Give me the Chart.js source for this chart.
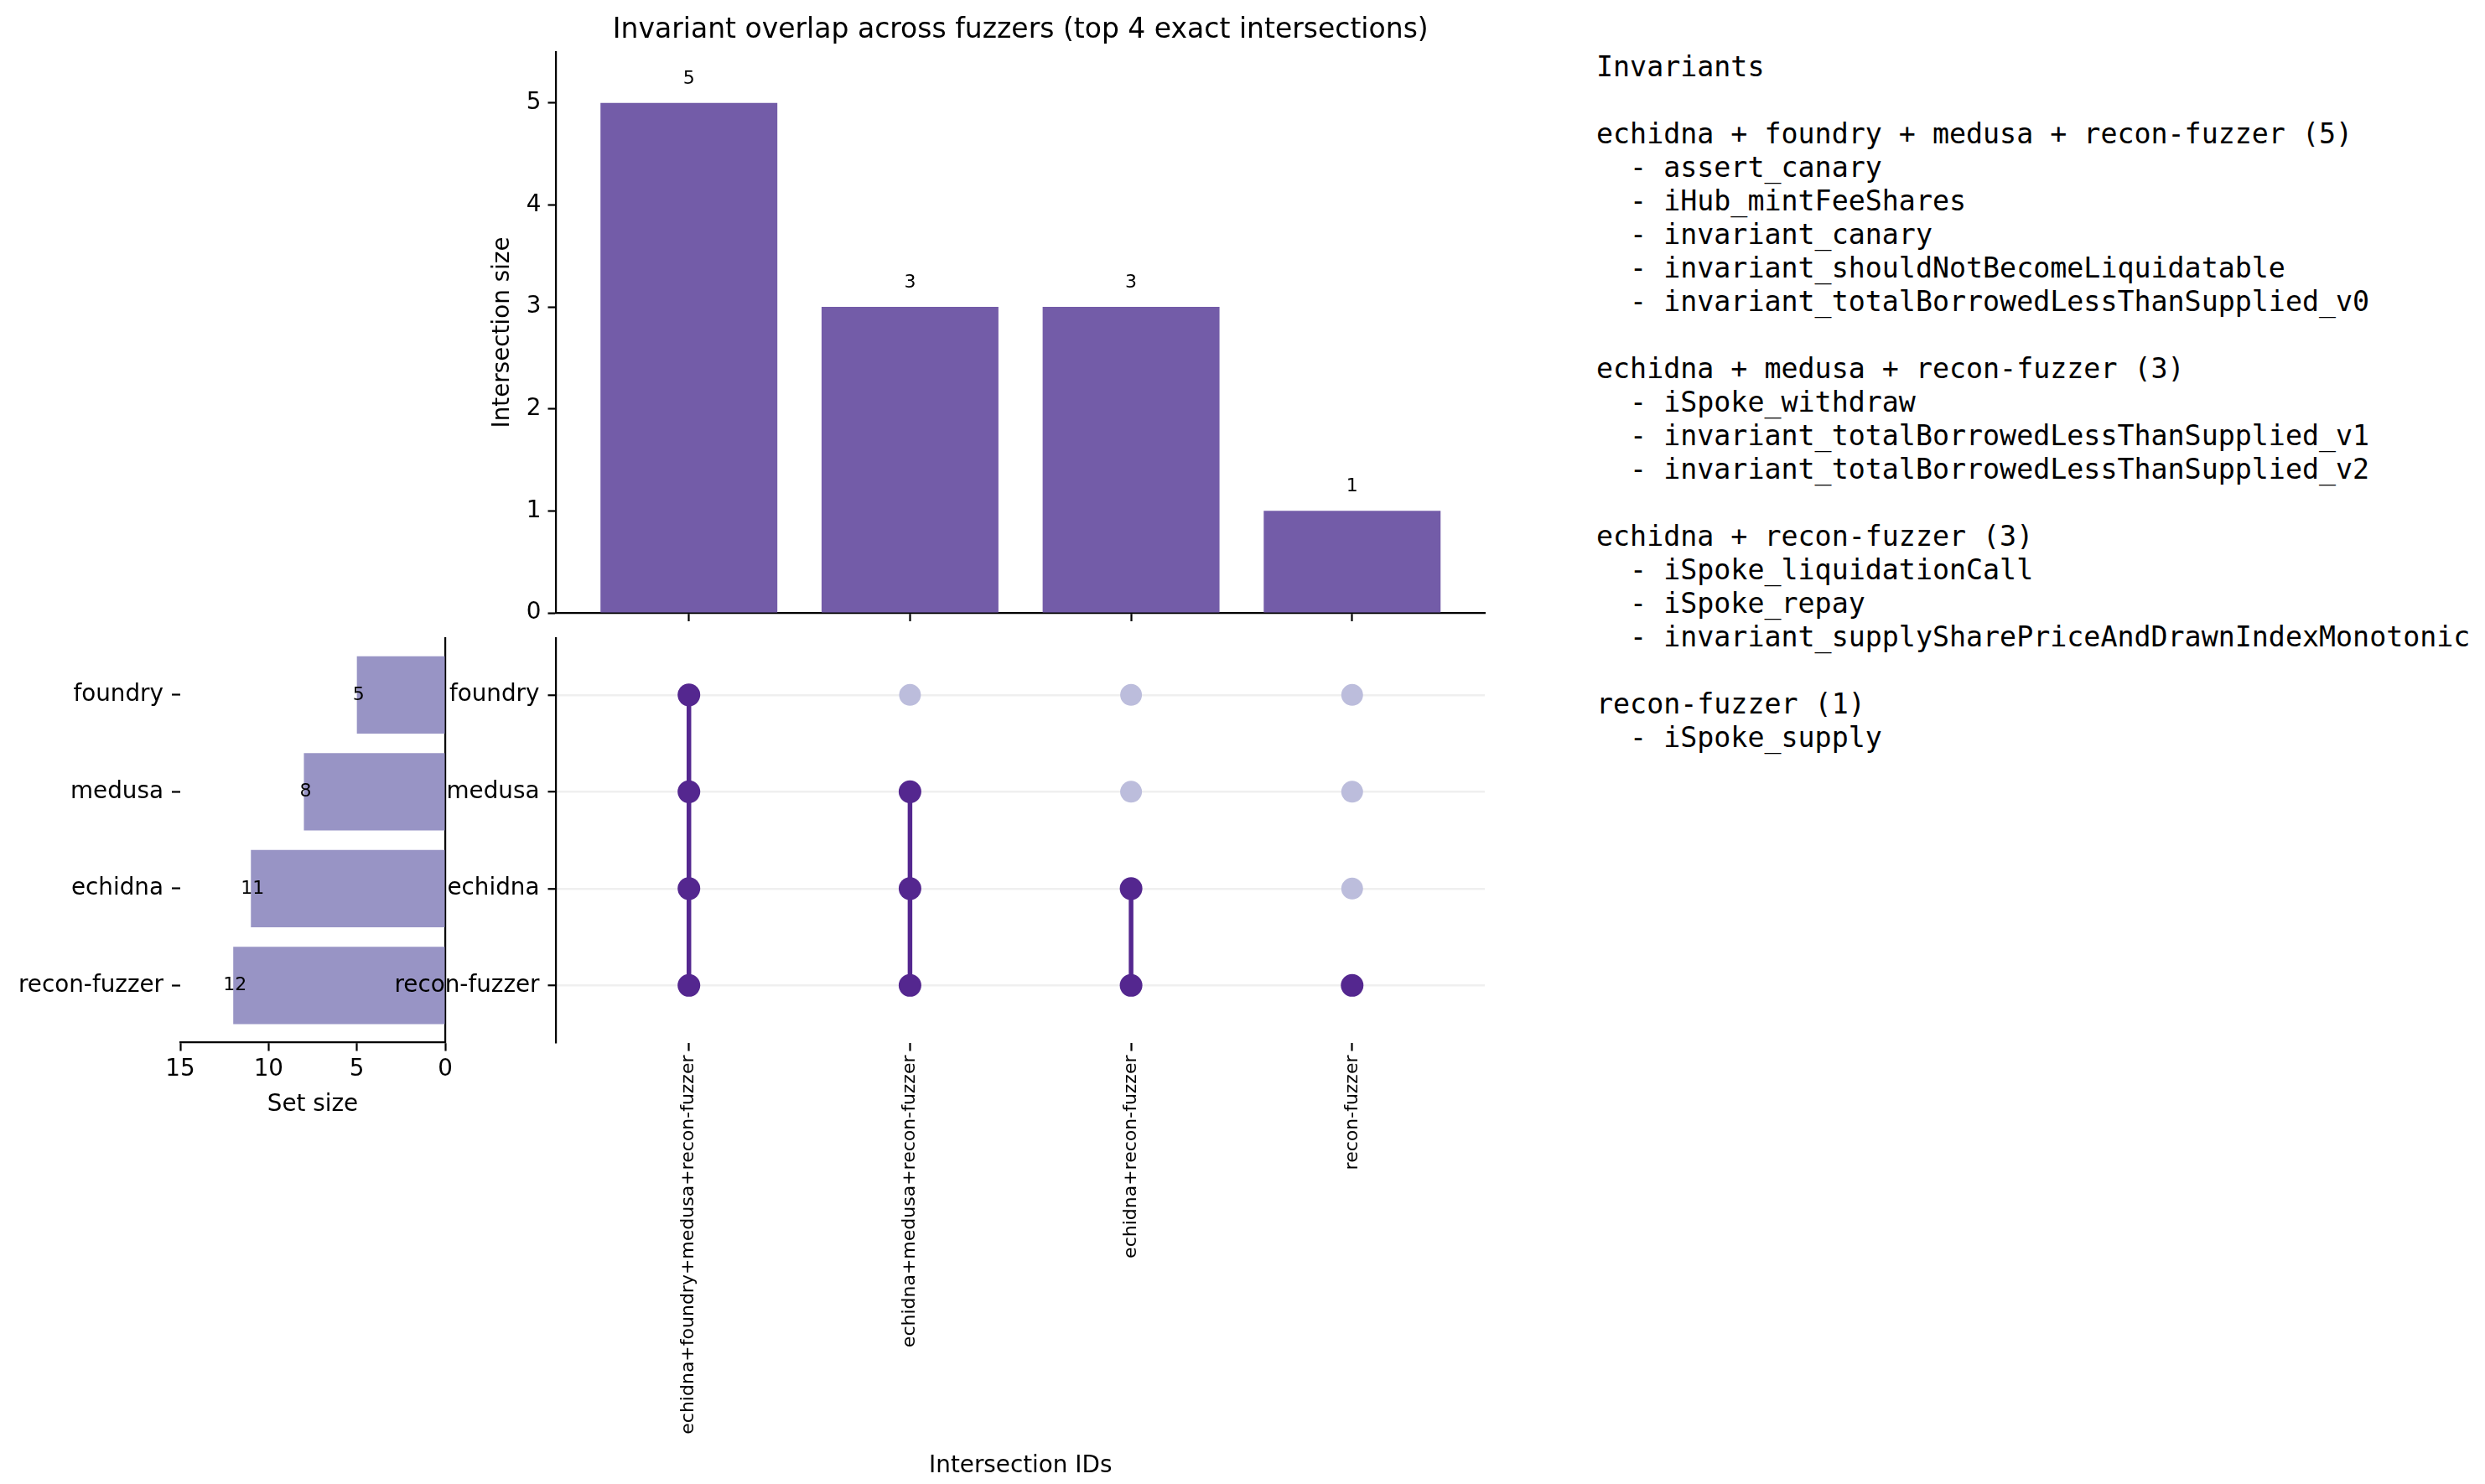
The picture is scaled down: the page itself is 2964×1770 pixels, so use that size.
<!DOCTYPE html>
<html>
<head>
<meta charset="utf-8">
<script src="https://cdn.jsdelivr.net/npm/chart.js@4.4.1/dist/chart.umd.min.js"></script>
<style>
  html, body { margin: 0; padding: 0; background: #ffffff; }
  #page { position: relative; width: 2964px; height: 1770px; overflow: hidden; background: #ffffff; }
  .box { position: absolute; }
  #notes { position: absolute; left: 1904px; top: 60px; margin: 0; font-family: "DejaVu Sans Mono", monospace; font-size: 33.3px; line-height: 40px; color: #000; white-space: pre; }
</style>
</head>
<body>
<div id="page">
  <div class="box" style="left:0px;top:700px;width:560px;height:634px;"><canvas id="setChart" width="560" height="634"></canvas></div>
  <div class="box" style="left:583px;top:0px;width:1217px;height:760px;"><canvas id="barChart" width="1217" height="760"></canvas></div>
  <div class="box" style="left:400px;top:720px;width:1400px;height:1045px;"><canvas id="matrixChart" width="1400" height="1045"></canvas></div>
  <pre id="notes"></pre>
</div>
<script>
// ---------------- data ----------------
const setNames = ['foundry', 'medusa', 'echidna', 'recon-fuzzer'];
const setSizes = [5, 8, 11, 12];

const intersectionMembers = [
  ['echidna', 'foundry', 'medusa', 'recon-fuzzer'],
  ['echidna', 'medusa', 'recon-fuzzer'],
  ['echidna', 'recon-fuzzer'],
  ['recon-fuzzer']
];
const intersectionSizes = [5, 3, 3, 1];

const invariants0 = ['assert_canary', 'iHub_mintFeeShares', 'invariant_canary', 'invariant_shouldNotBecomeLiquidatable', 'invariant_totalBorrowedLessThanSupplied_v0'];
const invariants1 = ['iSpoke_withdraw', 'invariant_totalBorrowedLessThanSupplied_v1', 'invariant_totalBorrowedLessThanSupplied_v2'];
const invariants2 = ['iSpoke_liquidationCall', 'iSpoke_repay', 'invariant_supplySharePriceAndDrawnIndexMonotonic'];
const invariants3 = ['iSpoke_supply'];

const intersectionSizeTicks = [0, 1, 2, 3, 4, 5];
const setSizeTicks = [0, 5, 10, 15];

const chartTitle = 'Invariant overlap across fuzzers (top 4 exact intersections)';
const notesTitle = 'Invariants';

// ---------------- derived ----------------
const intersectionLabels = intersectionMembers.map(m => m.join('+'));
const invariantLists = [invariants0, invariants1, invariants2, invariants3];

// ---------------- style ----------------
const FONT = 'DejaVu Sans';
const DARK = '#54278f';
const LIGHT = '#bcbddc';
const TOPBAR = '#735ca8';
const SETBAR = '#9894c5';
Chart.defaults.font.family = FONT;
Chart.defaults.color = '#000000';
Chart.defaults.animation = false;
Chart.defaults.responsive = false;
Chart.defaults.devicePixelRatio = 1;
Chart.defaults.plugins.legend.display = false;
Chart.defaults.plugins.tooltip.enabled = false;

const axisBorder = { display: true, color: '#000000', width: 2.2 };
const tickGrid = { display: true, offset: false, drawOnChartArea: false, drawTicks: true, tickLength: 10, tickWidth: 2.2, tickColor: '#000000', color: '#000000' };

// ---------------- notes text ----------------
(function () {
  const lines = [notesTitle, ''];
  intersectionMembers.forEach((m, i) => {
    lines.push(m.join(' + ') + ' (' + intersectionSizes[i] + ')');
    invariantLists[i].forEach(n => lines.push('  - ' + n));
    if (i < intersectionMembers.length - 1) lines.push('');
  });
  document.getElementById('notes').textContent = lines.join('\n');
})();

// ---------------- top intersection-size bars ----------------
const barLabelPlugin = {
  id: 'barLabels',
  afterDatasetsDraw(chart) {
    const ctx = chart.ctx;
    const yScale = chart.scales.y;
    const meta = chart.getDatasetMeta(0);
    ctx.save();
    ctx.font = '22px "' + FONT + '"';
    ctx.fillStyle = '#000';
    ctx.textAlign = 'center';
    ctx.textBaseline = 'middle';
    meta.data.forEach((el, i) => {
      const v = intersectionSizes[i];
      ctx.fillText(String(v), el.x, yScale.getPixelForValue(v + 0.235));
    });
    ctx.restore();
  }
};

new Chart(document.getElementById('barChart'), {
  type: 'bar',
  data: {
    datasets: [{
      data: intersectionSizes.map((v, i) => ({ x: i, y: v })),
      backgroundColor: TOPBAR,
      borderWidth: 0,
      barPercentage: 1.0,
      categoryPercentage: 0.8
    }]
  },
  options: {
    layout: { padding: { left: 0, right: 29, top: 0, bottom: 0 } },
    plugins: {
      title: {
        display: true, text: chartTitle, fullSize: false,
        font: { size: 33, weight: 'normal', family: FONT }, color: '#000',
        padding: { top: 17, bottom: 5.4 }
      }
    },
    scales: {
      x: {
        type: 'linear', min: -0.6, max: 3.6, offset: false,
        afterBuildTicks: s => { s.ticks = intersectionLabels.map((_, i) => ({ value: i })); },
        ticks: { callback: () => '', padding: 0 },
        grid: tickGrid, border: axisBorder,
        afterFit: s => { s.height = 29; }
      },
      y: {
        type: 'linear', min: 0, max: 5.5,
        afterBuildTicks: s => { s.ticks = intersectionSizeTicks.map(v => ({ value: v })); },
        ticks: { font: { size: 27.8 }, padding: 8, color: '#000' },
        grid: tickGrid, border: axisBorder,
        title: { display: true, text: 'Intersection size', font: { size: 27.8 }, padding: 0, color: '#000' },
        afterFit: s => { s.width = 80.5; }
      }
    }
  },
  plugins: [barLabelPlugin]
});

// ---------------- left set-size bars ----------------
const setLabelPlugin = {
  id: 'setLabels',
  afterDatasetsDraw(chart) {
    const ctx = chart.ctx;
    const xScale = chart.scales.x;
    const meta = chart.getDatasetMeta(0);
    ctx.save();
    ctx.font = '22px "' + FONT + '"';
    ctx.fillStyle = '#000';
    ctx.textAlign = 'center';
    ctx.textBaseline = 'middle';
    meta.data.forEach((el, i) => {
      ctx.fillText(String(setSizes[i]), xScale.getPixelForValue(setSizes[i]) + 2, el.y);
    });
    ctx.restore();
  }
};

new Chart(document.getElementById('setChart'), {
  type: 'bar',
  data: {
    datasets: [{
      data: setSizes.map((v, i) => ({ x: v, y: i })),
      backgroundColor: SETBAR,
      borderWidth: 0,
      barPercentage: 1.0,
      categoryPercentage: 0.8,
      yAxisID: 'y'
    }]
  },
  options: {
    indexAxis: 'y',
    layout: { padding: { left: 0, right: 0, top: 60.7, bottom: 0 } },
    scales: {
      x: {
        type: 'linear', min: 0, max: 15, reverse: true,
        afterBuildTicks: s => { s.ticks = setSizeTicks.map(v => ({ value: v })); },
        ticks: { font: { size: 27.8 }, padding: 6, color: '#000', maxRotation: 0 },
        grid: tickGrid, border: axisBorder,
        title: { display: true, text: 'Set size', font: { size: 27.8 }, padding: 0, color: '#000' },
        afterFit: s => { s.height = 90.5; }
      },
      y: {
        type: 'linear', position: 'left', min: -0.59, max: 3.59, reverse: true, offset: false,
        afterBuildTicks: s => { s.ticks = setNames.map((_, i) => ({ value: i })); },
        ticks: { font: { size: 27.8 }, padding: 10, color: '#000', callback: v => setNames[v] },
        grid: tickGrid, border: { display: false },
        afterFit: s => { s.width = 215; }
      },
      yRight: {
        type: 'linear', position: 'right', min: 0, max: 1,
        ticks: { display: false },
        grid: { display: true, offset: false, drawOnChartArea: false, drawTicks: false },
        border: axisBorder,
        afterFit: s => { s.width = 29; }
      }
    }
  },
  plugins: [setLabelPlugin]
});

// ---------------- membership matrix ----------------
const matrixDatasets = [];
const inactivePoints = [];
intersectionMembers.forEach((members, j) => {
  const active = [];
  setNames.forEach((name, r) => {
    if (members.includes(name)) active.push({ x: j, y: r });
    else inactivePoints.push({ x: j, y: r });
  });
  active.sort((a, b) => a.y - b.y);
  matrixDatasets.push({
    data: active, showLine: true,
    borderColor: DARK, borderWidth: 5.5,
    pointRadius: 13.5, pointBackgroundColor: DARK, pointBorderWidth: 0,
    order: 0
  });
});
matrixDatasets.push({
  data: inactivePoints, showLine: false,
  pointRadius: 13, pointBackgroundColor: LIGHT, pointBorderWidth: 0,
  borderColor: LIGHT, order: 1
});

new Chart(document.getElementById('matrixChart'), {
  type: 'scatter',
  data: { datasets: matrixDatasets },
  options: {
    layout: { padding: { left: 0, right: 29, top: 40.7, bottom: 0 } },
    scales: {
      x: {
        type: 'linear', min: -0.6, max: 3.6,
        afterBuildTicks: s => { s.ticks = intersectionLabels.map((_, i) => ({ value: i })); },
        ticks: { font: { size: 22 }, padding: 5, color: '#000', minRotation: 90, maxRotation: 90, autoSkip: false, callback: v => intersectionLabels[v] },
        grid: tickGrid, border: { display: false },
        title: { display: true, text: 'Intersection IDs', font: { size: 27.8 }, padding: 0, color: '#000' },
        afterFit: s => { s.height = 521.5; }
      },
      y: {
        type: 'linear', min: -0.59, max: 3.59, reverse: true,
        afterBuildTicks: s => { s.ticks = setNames.map((_, i) => ({ value: i })); },
        ticks: { font: { size: 27.8 }, padding: 10, color: '#000', callback: v => setNames[v] },
        grid: { display: true, offset: false, drawOnChartArea: true, drawTicks: true, color: '#efefef', lineWidth: 2.5, tickLength: 10, tickWidth: 2.2, tickColor: '#000000' },
        border: axisBorder,
        afterFit: s => { s.width = 263.5; }
      }
    }
  }
});
</script>
</body>
</html>
